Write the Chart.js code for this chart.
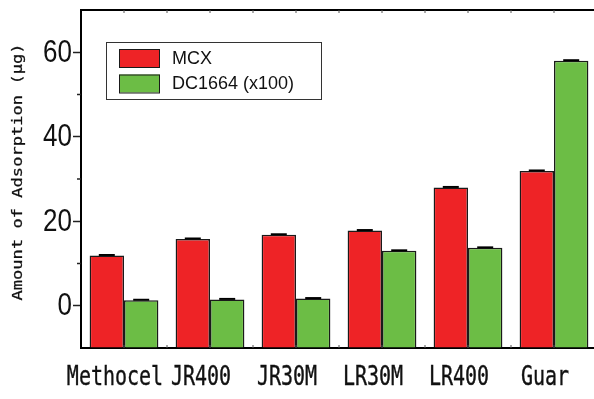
<!DOCTYPE html>
<html>
<head>
<meta charset="utf-8">
<script src="https://cdn.jsdelivr.net/npm/chart.js@4/dist/chart.umd.min.js"></script>
<style>
html,body{margin:0;padding:0;background:#fff;overflow:hidden;width:594px;height:399px;}
#wrap{width:600px;height:399px;}
</style>
</head>
<body>
<div id="wrap"><canvas id="c" width="600" height="399"></canvas></div>
<script>
const categories = ['Methocel', 'JR400', 'JR30M', 'LR30M', 'LR400', 'Guar'];
const seriesLabels = ['MCX', 'DC1664 (x100)'];
const mcxValues = [11.9, 15.8, 16.8, 17.8, 28.0, 31.9];
const dcValues = [1.3, 1.5, 1.7, 13.0, 13.7, 58.0];
const yTickLabels = [0, 20, 40, 60];
const yTitle = 'Amount of Adsorption (\u03BCg)';

const RED = '#EE2326';
const GREEN = '#6CBD45';
const EDGE = '#1a1a1a';

const customDraw = {
  id: 'customDraw',
  afterDraw(chart) {
    const ctx = chart.ctx;
    const area = chart.chartArea;
    const xs = chart.scales.x;
    const ys = chart.scales.y;
    ctx.save();

    // top frame line
    ctx.strokeStyle = '#000';
    ctx.lineWidth = 2;
    ctx.beginPath();
    ctx.moveTo(area.left - 1, area.top);
    ctx.lineTo(area.right + 5, area.top);
    ctx.stroke();

    // minor y ticks
    ctx.lineWidth = 1.5;
    ctx.strokeStyle = '#222';
    ys.ticks.forEach(t => {
      if (t.value % 20 !== 0 && t.value > ys.min && t.value < ys.max) {
        const y = ys.getPixelForValue(t.value);
        ctx.beginPath();
        ctx.moveTo(area.left - 4, y);
        ctx.lineTo(area.left, y);
        ctx.stroke();
      }
    });

    // small x ticks on top & bottom frame
    ctx.lineWidth = 1;
    ctx.strokeStyle = '#555';
    const half = (xs.getPixelForValue(1) - xs.getPixelForValue(0)) / 2;
    for (let i = 0; i < categories.length; i++) {
      const c = xs.getPixelForValue(i);
      [c, c + half].forEach(x => {
        ctx.beginPath(); ctx.moveTo(x, area.top); ctx.lineTo(x, area.top + 3); ctx.stroke();
        ctx.beginPath(); ctx.moveTo(x, area.bottom); ctx.lineTo(x, area.bottom - 3); ctx.stroke();
      });
    }

    // error caps
    ctx.strokeStyle = '#000';
    ctx.lineWidth = 2;
    chart.data.datasets.forEach((ds, di) => {
      chart.getDatasetMeta(di).data.forEach(bar => {
        ctx.beginPath();
        ctx.moveTo(bar.x - 8, bar.y - 0.5);
        ctx.lineTo(bar.x + 8, bar.y - 0.5);
        ctx.stroke();
      });
    });

    // y tick labels
    ctx.fillStyle = '#111';
    ctx.font = '26px "Liberation Sans", Arial, sans-serif';
    ctx.textAlign = 'right';
    ctx.textBaseline = 'middle';
    yTickLabels.forEach(v => {
      const y = ys.getPixelForValue(v);
      ctx.save();
      ctx.translate(area.left - 9, y + 1);
      ctx.scale(1, 1.22);
      ctx.fillText(String(v), 0, 0);
      ctx.restore();
    });

    // x category labels
    ctx.font = '20px "DejaVu Sans Mono", monospace';
    ctx.textAlign = 'center';
    ctx.textBaseline = 'alphabetic';
    ctx.strokeStyle = '#111';
    ctx.lineWidth = 0.3;
    categories.forEach((lab, i) => {
      const x = xs.getPixelForValue(i) - 9;
      ctx.save();
      ctx.translate(x, 385);
      ctx.scale(1, 1.34);
      ctx.fillText(lab, 0, 0);
      ctx.strokeText(lab, 0, 0);
      ctx.restore();
    });

    // y title rotated
    ctx.font = '14px "DejaVu Sans Mono", monospace';
    ctx.textAlign = 'center';
    ctx.textBaseline = 'middle';
    ctx.lineWidth = 0.25;
    ctx.save();
    ctx.translate(18, 172);
    ctx.rotate(-Math.PI / 2);
    ctx.scale(1.22, 1);
    ctx.fillText(yTitle, 0, 0);
    ctx.strokeText(yTitle, 0, 0);
    ctx.restore();

    // legend box
    const lx = 106, ly = 42, lw = 215, lh = 57;
    ctx.fillStyle = '#fff';
    ctx.fillRect(lx, ly, lw, lh);
    ctx.strokeStyle = '#333';
    ctx.lineWidth = 1;
    ctx.strokeRect(lx + 0.5, ly + 0.5, lw, lh);
    const cols = [RED, GREEN];
    ctx.font = '18px "Liberation Sans", Arial, sans-serif';
    ctx.textAlign = 'left';
    ctx.textBaseline = 'middle';
    seriesLabels.forEach((s, i) => {
      const sy = 49 + i * 25.5;
      ctx.fillStyle = cols[i];
      ctx.fillRect(119, sy, 41, 18);
      ctx.strokeStyle = EDGE;
      ctx.strokeRect(119.5, sy + 0.5, 40, 18);
      ctx.fillStyle = '#111';
      ctx.fillText(s, 172, sy + 10);
    });

    ctx.restore();
  }
};

new Chart(document.getElementById('c'), {
  type: 'bar',
  data: {
    labels: categories,
    datasets: [
      { label: seriesLabels[0], data: mcxValues, backgroundColor: RED, borderColor: EDGE, borderWidth: 1.5, base: -10, categoryPercentage: 0.8, barPercentage: 1.0 },
      { label: seriesLabels[1], data: dcValues, backgroundColor: GREEN, borderColor: EDGE, borderWidth: 1.5, base: -10, categoryPercentage: 0.8, barPercentage: 1.0 }
    ]
  },
  options: {
    responsive: false,
    animation: false,
    events: [],
    layout: { padding: { left: 73, top: 10, right: 3, bottom: 51 } },
    plugins: { legend: { display: false }, tooltip: { enabled: false } },
    scales: {
      x: {
        offset: true,
        ticks: { display: false },
        grid: { drawOnChartArea: false, drawTicks: false },
        border: { display: true, color: '#000', width: 2 }
      },
      y: {
        min: -10,
        max: 70,
        ticks: { display: false, stepSize: 10 },
        grid: {
          drawOnChartArea: false,
          drawTicks: true,
          tickLength: 8,
          tickWidth: 1.5,
          tickColor: c => (c.tick && c.tick.value % 20 === 0 && c.tick.value > -10 && c.tick.value < 70) ? '#222' : 'rgba(0,0,0,0)'
        },
        border: { display: true, color: '#000', width: 2 }
      }
    }
  },
  plugins: [customDraw]
});
</script>
</body>
</html>
